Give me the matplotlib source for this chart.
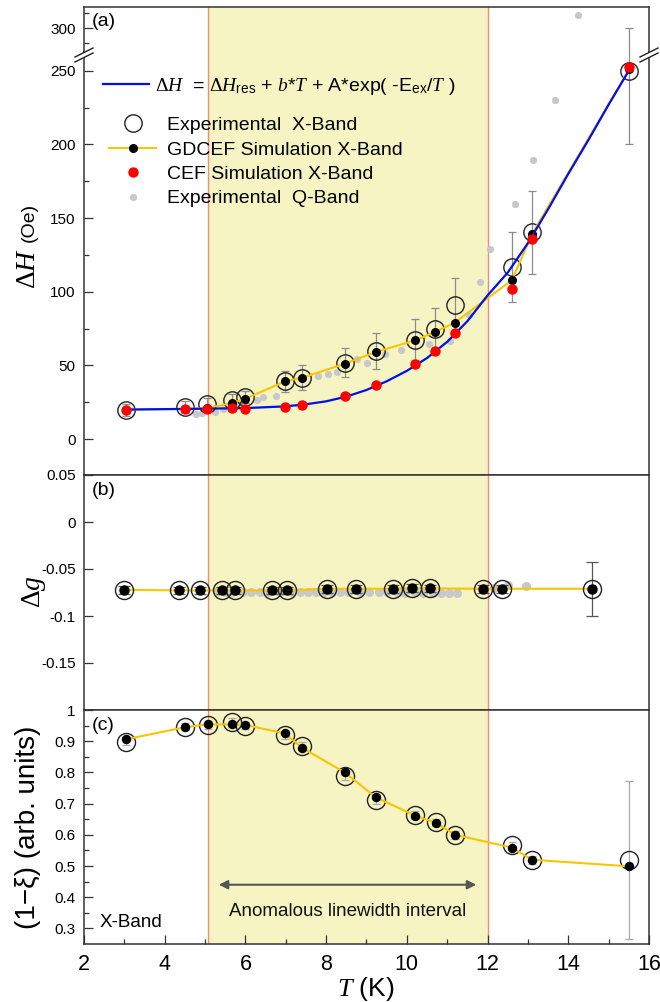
import numpy as np
import matplotlib
matplotlib.use("Agg")
import matplotlib.pyplot as plt
from matplotlib.lines import Line2D
from matplotlib.patches import Polygon

plt.rcParams['font.family'] = ['Liberation Sans', 'DejaVu Sans']
plt.rcParams['mathtext.fontset'] = 'custom'
plt.rcParams['mathtext.rm'] = 'Liberation Serif'
plt.rcParams['mathtext.it'] = 'Liberation Serif:italic'
plt.rcParams['mathtext.sf'] = 'Liberation Sans'

# ---- panel (a): linewidth ----
T_x = [3.04, 4.51, 5.06, 5.67, 5.99, 6.98, 7.40, 8.46, 9.23, 10.21, 10.70, 11.19, 12.60, 13.11, 15.51]
dH_exp = [19.8, 21.6, 23.9, 26.8, 28.4, 39.1, 41.6, 51.8, 59.8, 67.5, 74.5, 91.0, 117.0, 140.2, 250.0]
dH_err = [4, 4, 4, 4, 4, 7, 8.5, 10, 12, 14, 14.5, 18, 23.7, 28, 50]
dH_gdcef = [20.0, 20.5, 21.0, 24.5, 27.3, 39.1, 41.6, 51.1, 59.1, 67.0, 72.7, 79.1, 107.8, 139.5, 251.0]
dH_cef = [19.8, 20.5, 20.5, 21.1, 20.7, 22.0, 23.2, 29.1, 36.4, 50.7, 59.8, 72.0, 101.6, 135.5, 252.7]

T_fit = [3.04, 4.0, 5.0, 6.0, 7.0, 7.5, 8.0, 8.5, 9.0, 9.5, 10.0, 10.5, 11.0, 11.5, 12.0, 12.5, 13.0, 13.5, 14.0, 14.5, 15.0, 15.5]
dH_fit = [20.0, 20.3, 20.6, 21.0, 22.2, 23.6, 25.6, 28.8, 33.3, 39.2, 46.3, 55.0, 66.0, 80.0, 97.5, 113.0, 133.0, 156.0, 180.0, 203.0, 227.0, 250.0]

T_q = [4.77, 4.93, 5.24, 5.45, 5.85, 6.29, 6.43, 6.76, 7.81, 8.04, 8.28, 8.76, 9.01, 9.47, 9.85, 10.56, 11.06, 11.55, 11.81, 12.06, 12.69, 13.13, 13.66, 14.25]
dH_q = [17.0, 17.5, 18.6, 20.5, 24.5, 26.8, 28.4, 29.3, 42.7, 43.9, 45.5, 54.5, 51.6, 58.0, 60.7, 64.8, 66.4, 84.1, 106.8, 129.0, 159.2, 189.7, 230.4, 308.6]

# ---- panel (b): g-shift ----
T_b = [2.98, 4.35, 4.87, 5.43, 5.73, 6.65, 7.04, 8.03, 8.75, 9.66, 10.12, 10.57, 11.89, 12.36, 14.59]
dg_exp = [-0.0721, -0.0728, -0.0728, -0.0728, -0.0728, -0.0728, -0.0728, -0.0710, -0.0710, -0.0710, -0.0703, -0.0707, -0.0710, -0.0710, -0.0713]
dg_err = [0.004] * 14 + [0.0287]
dg_gdcef = [-0.0721, -0.0728, -0.0728, -0.0728, -0.0728, -0.0728, -0.0728, -0.0710, -0.0710, -0.0710, -0.0703, -0.0707, -0.0710, -0.0710, -0.0710]
T_bq = [5.3, 5.5, 5.7, 5.95, 6.15, 6.35, 6.55, 6.85, 7.15, 7.35, 7.55, 7.75, 7.95, 8.15, 8.35, 8.55, 8.85, 9.05, 9.3, 9.5, 9.75, 9.95, 10.2, 10.4, 10.65, 10.85, 11.05, 11.25, 12.15, 12.5, 12.95]
dg_q = [-0.0735, -0.0740, -0.0742, -0.0745, -0.0742, -0.0740, -0.0745, -0.0742, -0.0745, -0.0740, -0.0742, -0.0745, -0.0740, -0.0742, -0.0745, -0.0740, -0.0742, -0.0745, -0.0748, -0.0745, -0.0748, -0.0750, -0.0748, -0.0750, -0.0752, -0.0750, -0.0752, -0.0750, -0.0700, -0.0668, -0.0686]

# ---- panel (c): 1 - xi ----
T_c = [3.04, 4.51, 5.08, 5.67, 6.00, 6.98, 7.40, 8.46, 9.23, 10.21, 10.71, 11.20, 12.60, 13.10, 15.51]
xi_exp = [0.899, 0.947, 0.952, 0.961, 0.950, 0.920, 0.885, 0.789, 0.712, 0.664, 0.640, 0.600, 0.566, 0.520, 0.520]
xi_err = [0.012] * 14 + [0.254]
xi_gdcef = [0.906, 0.945, 0.954, 0.954, 0.952, 0.925, 0.879, 0.800, 0.720, 0.661, 0.639, 0.600, 0.559, 0.520, 0.499]

shade = (5.08, 12.0)
ticks_a = [0, 50, 100, 150, 200, 250]
ticks_b = [0.05, 0, -0.05, -0.1, -0.15]
labels_b = ['0.05', '0', '-0.05', '-0.1', '-0.15']
ticks_c = [1, 0.9, 0.8, 0.7, 0.6, 0.5, 0.4, 0.3]
labels_c = ['1', '0.9', '0.8', '0.7', '0.6', '0.5', '0.4', '0.3']

W, H = 660, 1002
fig = plt.figure(figsize=(W / 100, H / 100), dpi=100)


def fx(px):
    return px / W


def fy(py):
    return 1 - py / H


L, R = 84, 649
ax_top = fig.add_axes([fx(L), fy(52), fx(R - L), 45 / H])
ax_a = fig.add_axes([fx(L), fy(475), fx(R - L), 423 / H])
ax_b = fig.add_axes([fx(L), fy(710), fx(R - L), 235 / H])
ax_c = fig.add_axes([fx(L), fy(944), fx(R - L), 234 / H])

spine_c = '#333333'
for ax in (ax_top, ax_a, ax_b, ax_c):
    ax.set_xlim(2, 16)
    ax.axvspan(shade[0], shade[1], color='#f6f4c2', zorder=0, lw=0)
    for xv in shade:
        ax.axvline(xv, color='#f58a7a', lw=1.0, zorder=0.5)
    for s in ax.spines.values():
        s.set_color(spine_c)
        s.set_linewidth(1.1)
    ax.tick_params(axis='both', which='both', direction='in', color=spine_c, width=0.9,
                   right=False, top=False)
    ax.tick_params(axis='both', which='major', length=6.5)
    ax.tick_params(axis='both', which='minor', length=3.5)
    ax.tick_params(axis='y', labelsize=11, pad=6)
    if ax is not ax_c:
        ax.tick_params(axis='x', which='both', bottom=False, labelbottom=False)

# panel (a) upper segment (broken axis)
ax_top.set_ylim(283.7, 314.3)
ax_top.set_yticks([300])
ax_top.set_yticks([290, 310], minor=True)
ax_top.spines['bottom'].set_visible(False)
ax_a.set_ylim(-24.4, 262.7)
ax_a.set_yticks(ticks_a)
ax_a.set_yticks([25, 75, 125, 175, 225], minor=True)
ax_a.spines['top'].set_visible(False)

for ax in (ax_top, ax_a):
    ax.plot(T_q, dH_q, 'o', color='#c8c8c8', ms=5.2, mec='none', zorder=1)
    ax.errorbar(T_x, dH_exp, yerr=dH_err, fmt='none', ecolor='#8c8c8c', elinewidth=0.9,
                capsize=3.2, capthick=0.9, zorder=2)
    ax.plot(T_x, dH_exp, 'o', ms=12.5, mfc='none', mec='#222222', mew=1.0, zorder=3)
    ax.plot(T_x, dH_gdcef, '-', color='#f7c600', lw=1.5, zorder=4)
    ax.plot(T_x, dH_gdcef, 'o', color='black', ms=5.5, zorder=5)
    ax.plot(T_fit, dH_fit, '-', color='#0010e8', lw=1.6, zorder=6)
    ax.plot(T_x, dH_cef, 'o', color='#ff0000', ms=7.5, mec='none', zorder=7)

# legends
fs_leg = 14
h_fit = Line2D([], [], color='#0010e8', lw=1.6)
leg1 = ax_a.legend([h_fit],
                   [r"$\Delta H$  = $\Delta H_{\mathsf{res}}$ + $b$*$T$ + A*exp( -E$_{\mathsf{ex}}$/$T$ )"],
                   loc='upper left', bbox_to_anchor=(fx(102.7), fy(76)), bbox_transform=fig.transFigure,
                   frameon=False, fontsize=fs_leg, handlelength=2.39, handletextpad=0.29,
                   borderpad=0, borderaxespad=0)
ax_a.add_artist(leg1)
h_exp = Line2D([], [], ls='none', marker='o', ms=12.5, mfc='none', mec='#222222', mew=1.0)
h_gd = Line2D([], [], color='#f7c600', lw=1.5, marker='o', ms=5.5, mfc='black', mec='black')
h_cef = Line2D([], [], ls='none', marker='o', ms=7.5, color='#ff0000', mec='none')
h_q = Line2D([], [], ls='none', marker='o', ms=5.2, color='#c8c8c8', mec='none')
ax_a.legend([h_exp, h_gd, h_cef, h_q],
            ['Experimental  X-Band', 'GDCEF Simulation X-Band', 'CEF Simulation X-Band', 'Experimental  Q-Band'],
            loc='upper left', bbox_to_anchor=(fx(109.3), fy(116.5)), bbox_transform=fig.transFigure,
            frameon=False, fontsize=fs_leg, handlelength=2.4, handletextpad=0.57,
            labelspacing=0.35, borderpad=0, borderaxespad=0)

# panel (b)
ax_b.set_ylim(-0.2, 0.05)
ax_b.set_yticks(ticks_b)
ax_b.set_yticklabels(labels_b)
ax_b.plot(T_bq, dg_q, 'o', color='#c8c8c8', ms=6.5, mec='none', zorder=1)
ax_b.plot(T_b, dg_gdcef, '-', color='#f7c600', lw=1.5, zorder=2)
ax_b.errorbar(T_b, dg_exp, yerr=dg_err, fmt='none', ecolor='#555555', elinewidth=0.9,
              capsize=4.5, capthick=0.9, zorder=3)
ax_b.plot(T_b, dg_exp, 'o', ms=13, mfc='none', mec='#222222', mew=1.0, zorder=4)
ax_b.plot(T_b, dg_gdcef, 'o', color='black', ms=6.5, zorder=5)

# panel (c)
ax_c.set_ylim(0.25, 1.0)
ax_c.set_yticks(ticks_c)
ax_c.set_yticklabels(labels_c)
ax_c.set_yticks([0.95, 0.85, 0.75, 0.65, 0.55, 0.45, 0.35], minor=True)
ax_c.set_xticks([2, 4, 6, 8, 10, 12, 14, 16])
ax_c.set_xticks([3, 5, 7, 9, 11, 13, 15], minor=True)
ax_c.tick_params(axis='x', labelsize=15.5, pad=7)
ax_c.errorbar(T_c, xi_exp, yerr=xi_err, fmt='none', ecolor='#aaaaaa', elinewidth=0.9,
              capsize=3.2, capthick=0.9, zorder=1)
ax_c.plot(T_c, xi_exp, 'o', ms=13, mfc='none', mec='#222222', mew=1.0, zorder=2)
ax_c.plot(T_c, xi_gdcef, '-', color='#f7c600', lw=1.5, zorder=3)
ax_c.plot(T_c, xi_gdcef, 'o', color='black', ms=5.8, zorder=4)
ax_c.annotate('', xy=(11.72, 0.44), xytext=(5.34, 0.44),
              arrowprops=dict(arrowstyle='<|-|>', color='#555555', lw=1.5, mutation_scale=13,
                              shrinkA=0, shrinkB=0))
ax_c.text(8.53, 0.354, 'Anomalous linewidth interval', ha='center', va='center', fontsize=13.5, color='#111111')
ax_c.text(0.028, 0.093, 'X-Band', transform=ax_c.transAxes, ha='left', va='center', fontsize=13.5)

# panel letters
fig.text(fx(92), fy(21), '(a)', ha='left', va='center', fontsize=14)
fig.text(fx(92), fy(491), '(b)', ha='left', va='center', fontsize=14)
fig.text(fx(92), fy(726), '(c)', ha='left', va='center', fontsize=14)

# axis labels
fig.text(fx(28), fy(268), r'$\Delta H$', rotation=90, ha='center', va='center', fontsize=20)
fig.text(fx(29), fy(222), '(Oe)', rotation=90, ha='center', va='center', fontsize=14)
fig.text(fx(34), fy(592), r'$\Delta g$', rotation=90, ha='center', va='center', fontsize=20)
fig.text(fx(28), fy(827), '(1\u2212\u03be) (arb. units)', rotation=90, ha='center', va='center', fontsize=20)
fig.text(fx(366), fy(989), r'$T$ (K)', ha='center', va='center', fontsize=19)

# break marks on the left and right spines
for x0 in (L, R):
    band = Polygon([[fx(x0 - 9), fy(57)], [fx(x0 + 9), fy(48)], [fx(x0 + 9), fy(53)], [fx(x0 - 9), fy(62)]],
                   closed=True, transform=fig.transFigure, facecolor='white', edgecolor='none', zorder=20)
    fig.add_artist(band)
    for dy in (0, 5):
        fig.add_artist(Line2D([fx(x0 - 9), fx(x0 + 9)], [fy(57 + dy), fy(48 + dy)],
                              transform=fig.transFigure, color='#222222', lw=1.0, zorder=21))

fig.savefig('out.png', dpi=100)
